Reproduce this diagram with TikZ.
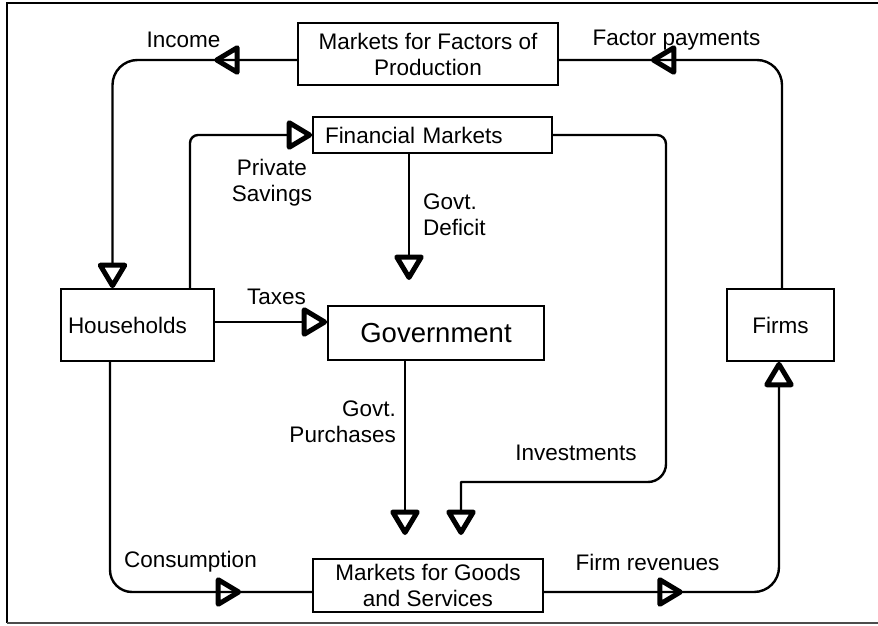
\documentclass[tikz,border=0pt]{standalone}
\usepackage{fontspec}
\setmainfont{Liberation Sans}
\usetikzlibrary{arrows.meta,decorations.markings,calc}
\newcommand{\fsnorm}{\fontsize{22.5}{26}\selectfont}
\newcommand{\fsbig}{\fontsize{27.5}{32}\selectfont}
\tikzset{
  box/.style={draw, line width=1.6pt, inner sep=0pt, font=\fsnorm},
  lbl/.style={inner sep=0pt, font=\fsnorm},
  flow/.style={line width=2.4pt, line join=round},
  tipa/.tip={Triangle[open, length=28pt, width=32pt, line width=5pt, round]},
  midtip/.style={postaction={decorate}, decoration={markings, mark=at position #1 with {\arrow{tipa}}}}
}
\begin{document}
\begin{tikzpicture}[x=1pt, y=-1pt]
\useasboundingbox (0,0) rectangle (878,626);
% frame
\draw[line width=2pt] (878,3) -- (7,3) -- (7,623);
\draw[line width=1.5pt, black!70] (7,623) -- (878,623);
% boxes
\node[box, minimum width=260pt, minimum height=62pt, align=center] (fp) at (428,54) {Markets for Factors of\\Production};
\node[box, minimum width=239pt, minimum height=36pt, inner xsep=12pt, text width=215pt, align=left] (fin) at (432.5,135) {Financial Markets};
\node[box, minimum width=153pt, minimum height=72pt, inner xsep=7pt, text width=139pt, align=left] (hh) at (137.5,325) {Households};
\node[box, minimum width=216pt, minimum height=54pt, font=\fsbig] (gov) at (436,333) {Government};
\node[box, minimum width=107pt, minimum height=72pt] (firms) at (780.5,325) {Firms};
\node[box, minimum width=230pt, minimum height=53pt, align=center] (goods) at (428,585.5) {Markets for Goods\\and Services};
% free ends
\coordinate (invend) at (461,535);
\coordinate (defend) at (409,280);
\coordinate (purend) at (405,535);
% connectors
\draw[flow, -tipa, rounded corners=25pt, midtip=83pt] ([yshift=-6pt]fp.west) -| ([xshift=-25pt]hh.north);
\draw[flow, rounded corners=25pt, midtip=-92pt] ([xshift=1.5pt]firms.north) |- ([yshift=-6pt]fp.east);
\draw[flow, -tipa, rounded corners=8pt] ([xshift=52.5pt]hh.north) |- (fin.west);
\draw[flow, -tipa] (fin.east) [rounded corners=9pt] -- (666,135) [rounded corners=18pt] -- (666,482) [sharp corners] -- (461,482) -- (invend);
\draw[flow, -tipa] ([xshift=-23.5pt]fin.south) -- (defend);
\draw[flow, -tipa] ([yshift=3pt]hh.east) -- ([yshift=3pt]hh.east -| gov.west);
\draw[flow, -tipa] ([xshift=-31pt]gov.south) -- (purend);
\draw[flow, rounded corners=22pt, midtip=-71pt] ([xshift=-27.5pt]hh.south) |- ([yshift=-6.5pt]goods.west);
\draw[flow, -tipa, rounded corners=25pt, midtip=139pt] ([yshift=-6.5pt]goods.east) -| ([xshift=-1.5pt]firms.south);
% labels
\node[lbl] (lincome) at (183.5,40) {Income};
\node[lbl] (lfactor) at (676.5,40) {Factor payments};
\node[lbl, align=center] (lsav) at (272,183) {Private\\Savings};
\node[lbl, align=left, anchor=west] (ldef) at (423,214.5) {Govt.\\Deficit};
\node[lbl] (ltax) at (276.5,297) {Taxes};
\node[lbl, align=right, anchor=east] (lpur) at (396,422) {Govt.\\Purchases};
\node[lbl] (linv) at (576,453) {Investments};
\node[lbl] (lcons) at (190.5,562) {Consumption};
\node[lbl] (lrev) at (647.5,562) {Firm revenues};
\end{tikzpicture}
\end{document}
